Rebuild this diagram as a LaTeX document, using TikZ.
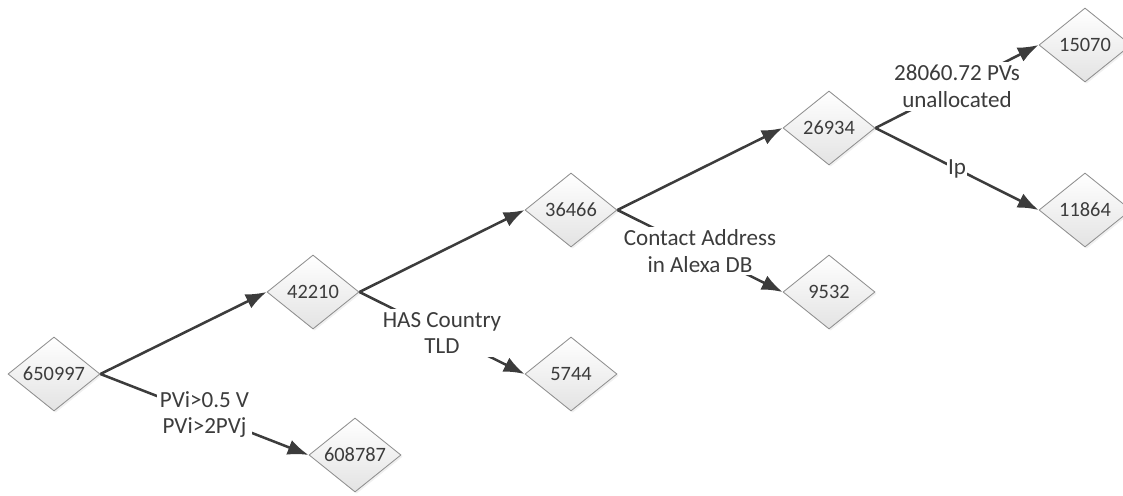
\documentclass[tikz,border=0pt]{standalone}
\usepackage{fontspec}
\setmainfont{Carlito}
\usepackage{tikz}
\usetikzlibrary{arrows.meta,shapes.geometric,shadows}
\definecolor{dunkel}{HTML}{3C3C3C}
\definecolor{rand}{HTML}{8F8F8F}
\definecolor{hell}{HTML}{E3E3E3}
\tikzset{
  raute/.style={diamond,draw=rand,line width=0.6pt,top color=white,bottom color=hell,
    inner sep=0pt,aspect=1.25,minimum width=2.3cm,minimum height=1.85cm,
    drop shadow={shadow xshift=1.2pt,shadow yshift=-1.2pt,opacity=0.12},
    text=dunkel,font=\fontsize{14.5}{17}\selectfont},
  pfeil/.style={-{Latex[length=5.2mm,width=3.9mm]},dunkel,line width=1.8pt},
  bed/.style={fill=white,text=dunkel,align=center,inner sep=2pt,
    font=\fontsize{16.4}{19}\selectfont},
}
\begin{document}
\begin{tikzpicture}[x=0.025cm,y=-0.025cm]
  \useasboundingbox (0,0) rectangle (1123,495);
  % Knoten
  \node[raute] (a) at (54,374) {650997};
  \node[raute] (b) at (313,292) {42210};
  \node[raute] (c) at (571,210) {36466};
  \node[raute] (d) at (829,128) {26934};
  \node[raute] (e) at (1085,45) {15070};
  \node[raute] (f) at (1085,210) {11864};
  \node[raute] (g) at (829,292) {9532};
  \node[raute] (h) at (571,374) {5744};
  \node[raute] (i) at (355,455) {608787};
  % Hauptpfad
  \draw[pfeil] (a.east) -- (b.west);
  \draw[pfeil] (b.east) -- (c.west);
  \draw[pfeil] (c.east) -- (d.west);
  % Abzweige
  \draw[pfeil] (a.east) -- node[bed] (la) {PVi>0.5 V\\PVi>2PVj} (i.west);
  \draw[pfeil] (b.east) -- node[bed] (lb) {HAS Country\\TLD} (h.west);
  \draw[pfeil] (c.east) -- node[bed] (lc) {Contact Address\\in Alexa DB} (g.west);
  \draw[pfeil] (d.east) -- node[bed] (ld) {28060.72 PVs\\unallocated} (e.west);
  \draw[pfeil] (d.east) -- node[bed,inner sep=1pt] (le) {Ip} (f.west);
\end{tikzpicture}
\end{document}
